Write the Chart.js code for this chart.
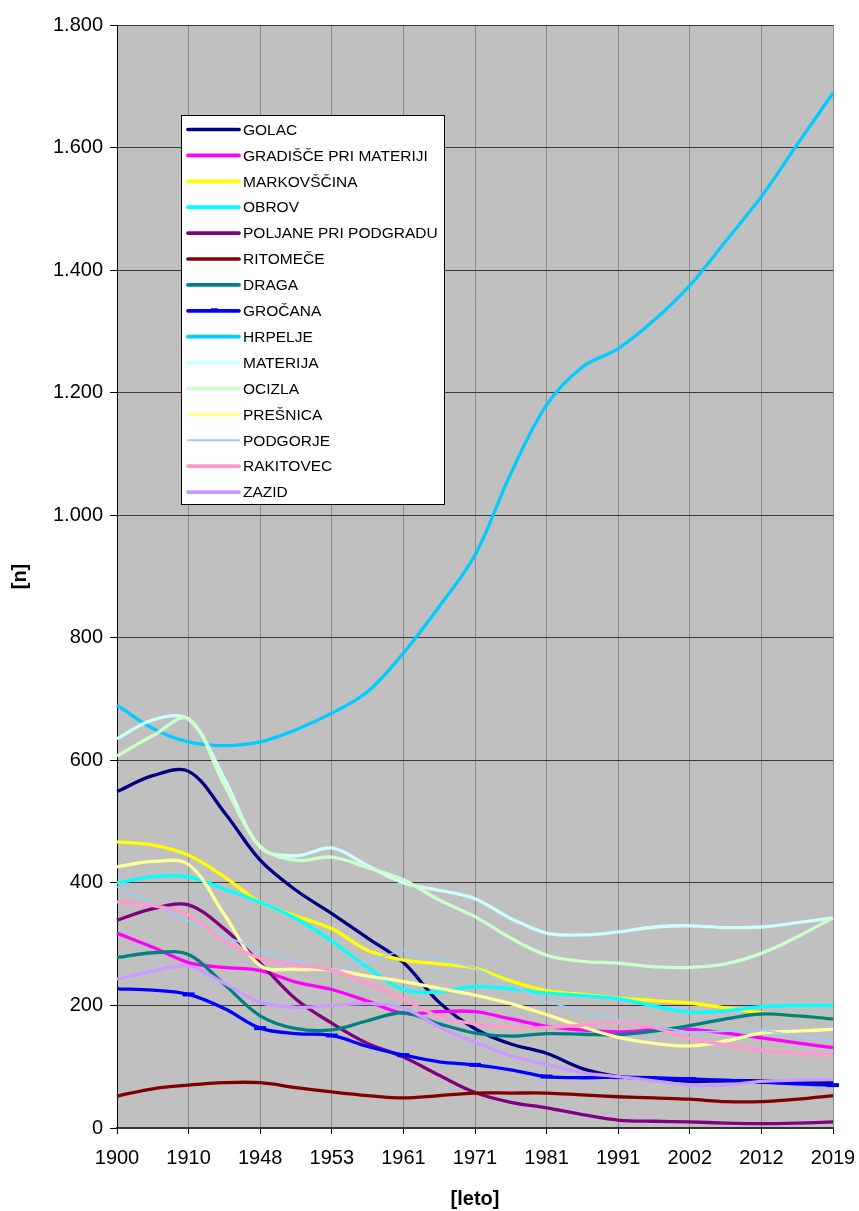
<!DOCTYPE html>
<html><head><meta charset="utf-8">
<script src="https://cdn.jsdelivr.net/npm/chart.js@4/dist/chart.umd.min.js"></script>
<style>html,body{margin:0;padding:0;background:#fff;}#wrap{width:859px;height:1211px;}</style>
</head><body><div id="wrap"><canvas id="c" width="859" height="1211"></canvas></div>
<script>
// Tick labels (census years); intermediate half-step points carry empty labels
const years = ['1900','1910','1948','1953','1961','1971','1981','1991','2002','2012','2019'];
const yTicks = [0,200,400,600,800,1000,1200,1400,1600,1800];

// Series values (21 points: each year plus a half-step between years)
const golac      = [549,575,582,515,437,388,350,310,270,205,162,137,122,97,84,80,76,77,77,75,74];
const gradisce   = [318,295,270,262,257,238,226,207,187,190,190,178,166,160,157,160,161,155,147,139,131];
const markovscina= [467,462,445,410,368,346,325,290,274,268,261,240,224,218,212,208,204,196,188,183,178];
const obrov      = [400,410,410,390,368,342,305,262,226,222,231,227,220,216,211,199,189,191,198,200,200];
const poljane    = [339,358,364,325,269,210,171,138,116,86,58,42,33,22,13,11,10,8,7,8,10];
const ritomece   = [52,64,70,74,74,66,59,53,49,53,57,57,57,54,51,49,47,43,43,47,53];
const draga      = [278,286,283,234,183,162,160,175,188,170,155,150,154,153,152,158,167,178,186,183,178];
const grocana    = [227,225,218,195,163,154,151,133,119,108,103,95,84,82,83,82,80,78,75,72,70];
const hrpelje    = [690,652,630,624,630,650,677,712,775,851,935,1068,1180,1242,1272,1318,1375,1447,1520,1605,1689];
const materija   = [635,666,667,570,458,444,457,428,400,388,374,342,318,315,320,328,330,327,328,335,343];
const ocizla     = [607,640,668,560,460,437,442,425,405,372,345,310,282,272,269,263,262,268,285,312,343];
const presnica   = [426,435,430,348,265,259,258,248,239,228,217,203,185,165,148,138,134,142,155,158,161];
const podgorje   = [394,null,337,null,290,null,255,null,290,null,261,null,206,null,176,null,156,null,160,null,141];
const rakitovec  = [369,363,348,305,277,266,258,236,210,182,170,165,164,168,172,164,146,136,127,122,119];
const zazid      = [243,256,264,236,205,197,200,203,196,165,140,118,104,90,84,77,70,70,76,78,79];

const names = ['GOLAC','GRADIŠČE PRI MATERIJI','MARKOVŠČINA','OBROV','POLJANE PRI PODGRADU','RITOMEČE','DRAGA','GROČANA','HRPELJE','MATERIJA','OCIZLA','PREŠNICA','PODGORJE','RAKITOVEC','ZAZID'];
const colors = ['#000080','#FF00FF','#FFFF00','#00FFFF','#800080','#800000','#008080','#0000FF','#00CCFF','#CCFFFF','#CCFFCC','#FFFF99','#99CCFF','#FF99CC','#CC99FF'];
const series = [golac,gradisce,markovscina,obrov,poljane,ritomece,draga,grocana,hrpelje,materija,ocizla,presnica,podgorje,rakitovec,zazid];

const categories = [];
years.forEach((y,i)=>{categories.push(y); if(i<years.length-1) categories.push('');});

const FONT = "'Liberation Sans', Arial, sans-serif";

const datasets = series.map((d,i)=>{
  const isPod = names[i]==='PODGORJE';
  const isGro = names[i]==='GROČANA';
  return {
    label: names[i],
    data: d,
    borderColor: colors[i],
    backgroundColor: colors[i],
    borderWidth: isPod ? 1.6 : 3.3,
    tension: isPod ? 0 : 0.35,
    spanGaps: true,
    fill: false,
    order: -i,
    pointStyle: 'line',
    pointRadius: isGro ? d.map((v,j)=> j%2===0 && j>0 ? 6 : 0) : 0,
    pointBorderWidth: 4,
    pointBorderColor: colors[i],
    pointHoverRadius: 0
  };
});

const bgPlugin = {
  id:'bg',
  beforeDraw(chart){
    const {ctx, chartArea:a} = chart;
    ctx.save();
    ctx.fillStyle='#fff'; ctx.fillRect(0,0,chart.width,chart.height);
    ctx.fillStyle='#C0C0C0'; ctx.fillRect(a.left,a.top,a.right-a.left,a.bottom-a.top);
    ctx.restore();
  }
};

const legendPlugin = {
  id:'boxLegend',
  afterDraw(chart){
    const ctx = chart.ctx;
    const x0=181, y0=115, x1=444, y1=504;
    ctx.save();
    ctx.fillStyle='#fff';
    ctx.fillRect(x0,y0,x1-x0,y1-y0);
    ctx.strokeStyle='#000'; ctx.lineWidth=1;
    ctx.strokeRect(x0+0.5,y0+0.5,x1-x0,y1-y0);
    ctx.font = "15.5px " + FONT;
    ctx.textBaseline='middle';
    chart.data.datasets.forEach((ds,i)=>{
      const y = 129.5 + 25.9*i;
      ctx.strokeStyle = ds.borderColor;
      ctx.lineWidth = ds.borderWidth + 0.4;
      ctx.lineCap='round';
      ctx.beginPath(); ctx.moveTo(188,y); ctx.lineTo(239,y); ctx.stroke();
      if (ds.label==='GROČANA'){
        ctx.lineWidth=3; ctx.lineCap='butt';
        ctx.beginPath(); ctx.moveTo(211,y-1); ctx.lineTo(218,y-1); ctx.stroke();
      }
      ctx.fillStyle='#000';
      ctx.fillText(ds.label, 243, y+1);
    });
    ctx.restore();
  }
};

new Chart(document.getElementById('c'), {
  type:'line',
  data:{labels:categories, datasets},
  plugins:[bgPlugin, legendPlugin],
  options:{
    responsive:false,
    animation:false,
    devicePixelRatio:1,
    layout:{padding:{top:25,right:26,left:0,bottom:0}},
    plugins:{legend:{display:false}, tooltip:{enabled:false}},
    scales:{
      x:{
        type:'category',
        offset:false,
        grid:{
          color: c => (c.index%2===0) ? '#8a8a8a' : 'rgba(0,0,0,0)',
          tickColor: c => (c.index%2===0) ? '#000' : 'rgba(0,0,0,0)',
          lineWidth:1, tickLength:6, drawOnChartArea:true
        },
        border:{color:'#333', width:1.5},
        ticks:{autoSkip:false, maxRotation:0, minRotation:0, color:'#000', padding:12,
          font:{size:20, family:FONT},
          callback:(v,i)=>categories[i]},
        title:{display:true, text:'[leto]', color:'#000', font:{size:20, weight:'bold', family:FONT}, padding:{top:17,bottom:0}},
        afterFit: s => { s.height = 83; s.paddingRight = 0; s.paddingLeft = 0; }
      },
      y:{
        min:0, max:1800,
        afterBuildTicks: s => { s.ticks = yTicks.map(v=>({value:v})); },
        grid:{color:'#3a3a3a', lineWidth:1, tickLength:7, tickColor:'#000'},
        border:{color:'#000', width:1},
        ticks:{color:'#000', padding:7, font:{size:20, family:FONT},
          callback: v => v>=1000 ? Math.floor(v/1000)+'.'+String(v%1000).padStart(3,'0') : String(v)},
        title:{display:true, text:'[n]', color:'#000', font:{size:20, weight:'bold', family:FONT}, padding:{top:8,bottom:0}},
        afterFit: s => { s.width = 117; }
      }
    }
  }
});
</script></body></html>
